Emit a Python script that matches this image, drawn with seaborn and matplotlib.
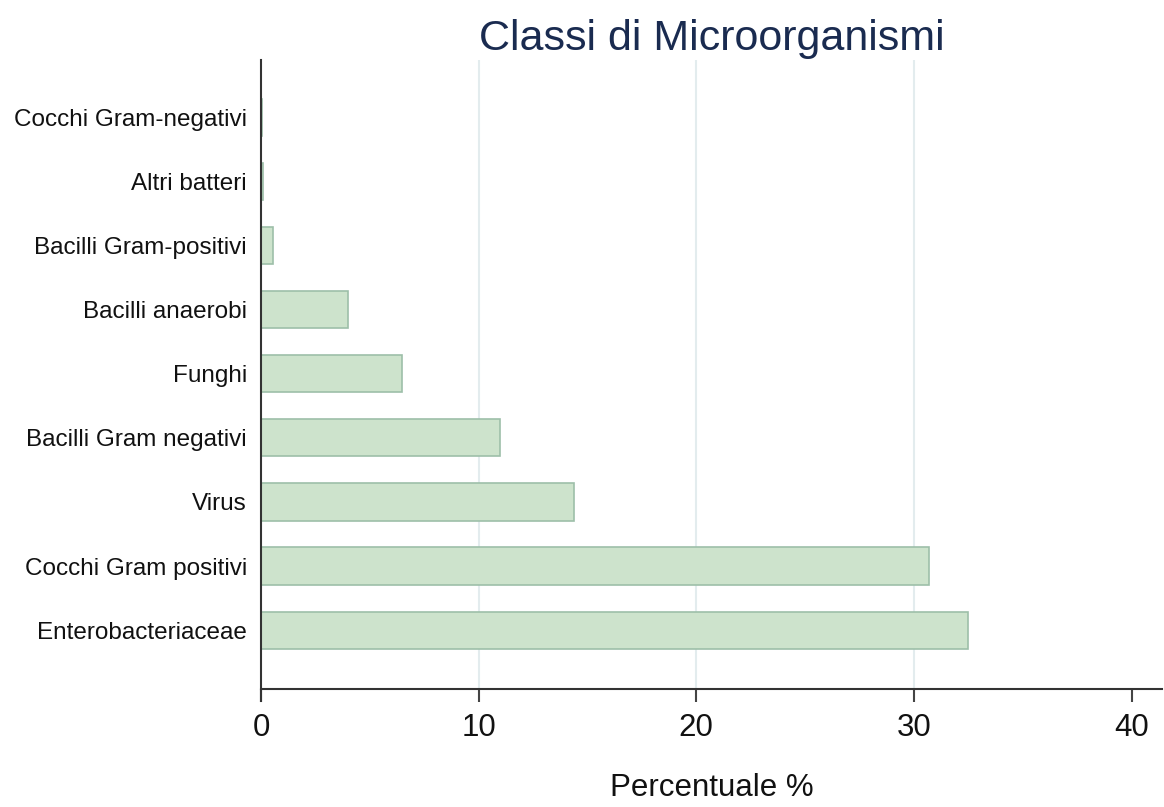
import matplotlib
matplotlib.use("Agg")
import matplotlib.pyplot as plt
import pandas as pd
import seaborn as sns

# Data (percentages)
categories = ['Enterobacteriaceae', 'Cocchi Gram positivi', 'Virus', 'Bacilli Gram negativi',
              'Funghi', 'Bacilli anaerobi', 'Bacilli Gram-positivi', 'Altri batteri',
              'Cocchi Gram-negativi']
percent = [32.5, 30.7, 14.4, 11.0, 6.5, 4.0, 0.55, 0.1, 0.05]
x_ticks = [0, 10, 20, 30, 40]

df = pd.DataFrame({'Classe': categories, 'Percentuale': percent})

sns.set_style("white")
plt.rcParams['font.family'] = ['Liberation Sans', 'DejaVu Sans']
plt.rcParams['text.color'] = '#111111'
plt.rcParams['xtick.color'] = '#111111'
plt.rcParams['ytick.color'] = '#111111'
plt.rcParams['axes.labelcolor'] = '#111111'

fig = plt.figure(figsize=(11.64, 8.07), dpi=100)
ax = fig.add_axes([0.2242, 0.1462, 0.7741, 0.7795])

sns.barplot(data=df, x='Percentuale', y='Classe', order=categories, orient='h',
            color='#cde3cc', edgecolor='#9dbfa9', linewidth=1.2, width=0.58,
            saturation=1, ax=ax)

ax.set_xlim(0, 41.4)
ax.set_ylim(-0.92, 8.9)  # categories listed bottom-up
ax.set_xticks(x_ticks)
ax.set_xticklabels([str(t) for t in x_ticks], fontsize=22.5)
ax.tick_params(axis='x', bottom=True, length=9, width=1.5, color='#444444',
               labelcolor='#111111', pad=8, direction='out')
ax.tick_params(axis='y', left=False, length=0, pad=10, labelsize=17.5)

for t in x_ticks[1:4]:
    ax.axvline(t, color='#e3ecee', linewidth=1.5, zorder=0)

for side in ['top', 'right']:
    ax.spines[side].set_visible(False)
for side in ['left', 'bottom']:
    ax.spines[side].set_color('#333333')
    ax.spines[side].set_linewidth(1.5)
ax.spines['left'].set_bounds(-1.1, 8.9)

ax.set_ylabel('')
ax.set_xlabel('Percentuale %', fontsize=22.5, labelpad=22)
ax.set_title('Classi di Microorganismi', fontsize=31, color='#1a2b50', pad=7.5)

fig.savefig('out.png', dpi=100)
